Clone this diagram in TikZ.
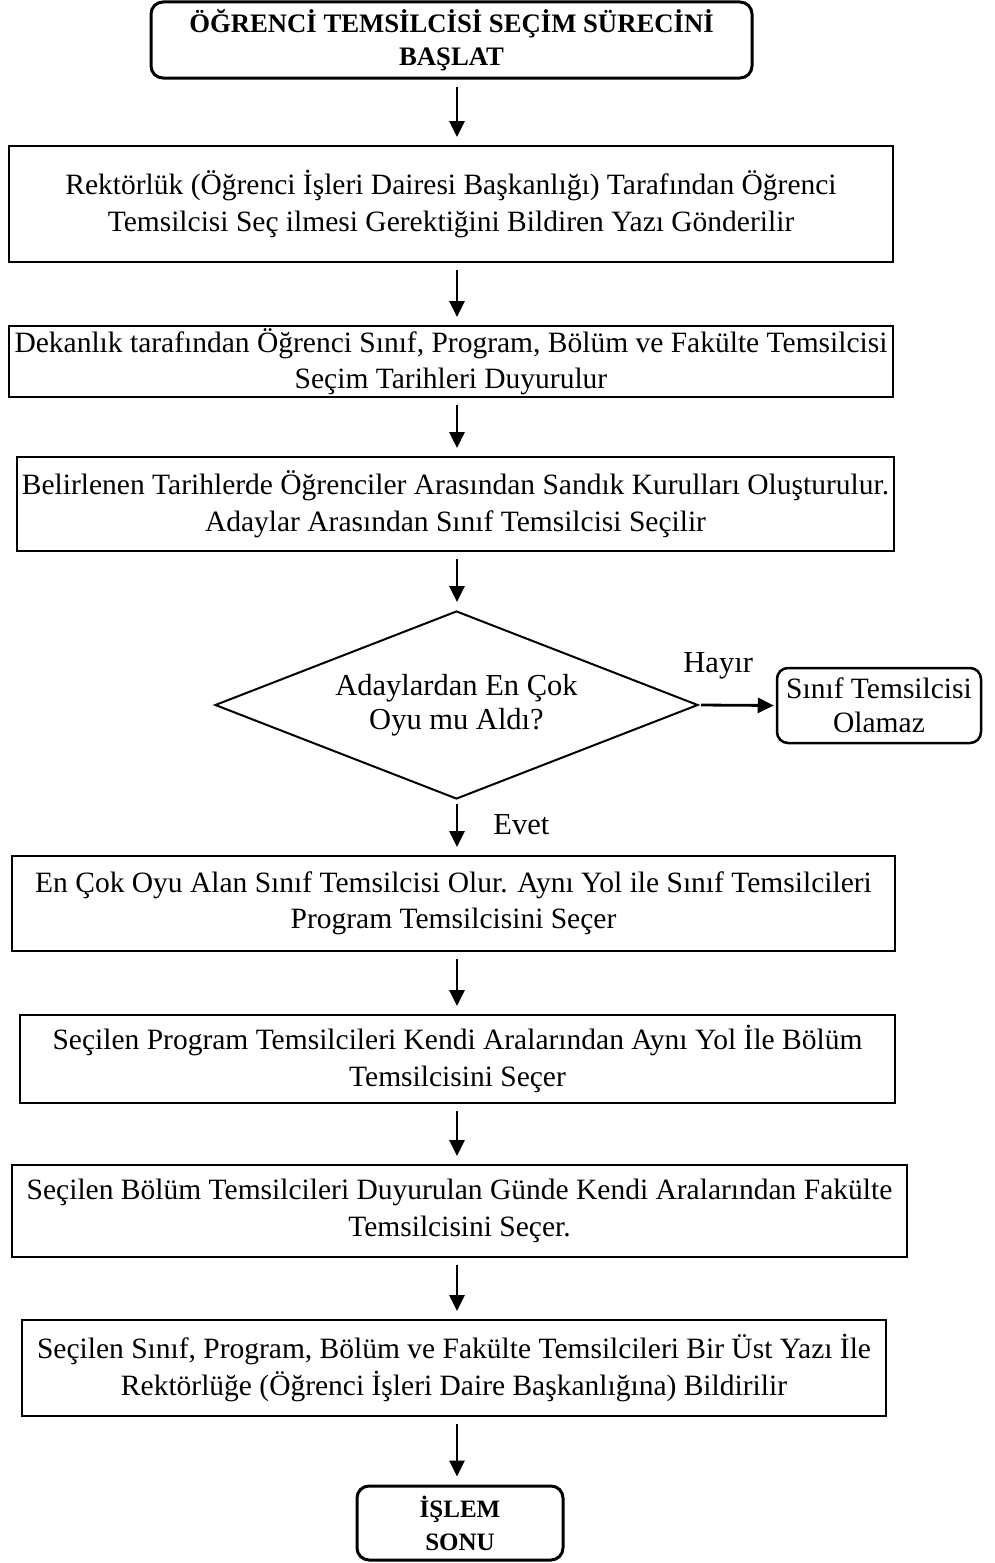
\documentclass[tikz,border=0pt]{standalone}
\usepackage{fontspec}
\setmainfont{Liberation Serif}
\usetikzlibrary{arrows.meta,shapes.geometric}
\begin{document}
\begin{tikzpicture}[x=1pt,y=-1pt,
  stepbox/.style={draw,line width=2pt,inner sep=0pt,align=center,
    font=\fontsize{29.5}{36.5}\selectfont},
  termbox/.style={draw,line width=3pt,rounded corners=12pt,inner sep=0pt,align=center,
    font=\fontsize{26.7}{33}\selectfont\bfseries},
  endbox/.style={draw,line width=2.5pt,rounded corners=11pt,inner sep=0pt,align=center,
    font=\fontsize{29.5}{34}\selectfont},
  decision/.style={draw,diamond,aspect=2.57,line width=2pt,inner sep=0pt,align=center,
    font=\fontsize{30.5}{34}\selectfont},
  lbl/.style={font=\fontsize{30.5}{34}\selectfont,inner sep=0pt},
  arr/.style={line width=2.8pt,-{Triangle[length=16pt,width=15pt]},
    shorten <=7pt,shorten >=8pt}
]
\useasboundingbox (0,0) rectangle (995,1563);

% process steps
\node[termbox,minimum width=601pt,minimum height=76pt] (s) at (451.5,40)
  {ÖĞRENCİ TEMSİLCİSİ SEÇİM SÜRECİNİ\\BAŞLAT};
\node[stepbox,minimum width=884pt,minimum height=116pt] (b1) at (451,204)
  {Rektörlük (Öğrenci İşleri Dairesi Başkanlığı) Tarafından Öğrenci\\Temsilcisi Seç ilmesi Gerektiğini Bildiren Yazı Gönderilir};
\node[stepbox,minimum width=884pt,minimum height=71pt] (b2) at (451,361.5)
  {Dekanlık tarafından Öğrenci Sınıf, Program, Bölüm ve Fakülte Temsilcisi\\Seçim Tarihleri Duyurulur};
\node[stepbox,minimum width=877pt,minimum height=94pt] (b3) at (455.5,504)
  {Belirlenen Tarihlerde Öğrenciler Arasından Sandık Kurulları Oluşturulur.\\Adaylar Arasından Sınıf Temsilcisi Seçilir};
\node[decision,minimum width=483pt,minimum height=188pt] (q) at (456.5,705)
  {Adaylardan En Çok\\Oyu mu Aldı?};
\node[endbox,minimum width=204pt,minimum height=75pt] (no) at (879,705.5)
  {Sınıf Temsilcisi\\Olamaz};
\node[stepbox,minimum width=883pt,minimum height=95pt] (b5) at (453.5,903.5)
  {En Çok Oyu Alan Sınıf Temsilcisi Olur. Aynı Yol ile Sınıf Temsilcileri\\Program Temsilcisini Seçer};
\node[stepbox,minimum width=875pt,minimum height=88pt] (b6) at (457.5,1059)
  {Seçilen Program Temsilcileri Kendi Aralarından Aynı Yol İle Bölüm\\Temsilcisini Seçer};
\node[stepbox,minimum width=895pt,minimum height=92pt] (b7) at (459.5,1211)
  {Seçilen Bölüm Temsilcileri Duyurulan Günde Kendi Aralarından Fakülte\\Temsilcisini Seçer.};
\node[stepbox,minimum width=864pt,minimum height=96pt] (b8) at (454,1368)
  {Seçilen Sınıf, Program, Bölüm ve Fakülte Temsilcileri Bir Üst Yazı İle\\Rektörlüğe (Öğrenci İşleri Daire Başkanlığına) Bildirilir};
\node[termbox,font=\fontsize{25}{33}\selectfont\bfseries,
  minimum width=206pt,minimum height=74pt] (e) at (460,1523)
  {İŞLEM\\SONU};

% connectors along the main column
\coordinate (col) at (457,0);
\draw[arr] (s.south -| col) -- (b1.north -| col);
\draw[arr] (b1.south -| col) -- (b2.north -| col);
\draw[arr] (b2.south -| col) -- (b3.north -| col);
\draw[arr] (b3.south -| col) -- (q.north -| col);
\draw[arr,shorten <=4pt] (q.south -| col) -- (b5.north -| col)
  node[lbl,pos=0.45,right=35pt] (yes) {Evet};
\draw[arr] (b5.south -| col) -- (b6.north -| col);
\draw[arr] (b6.south -| col) -- (b7.north -| col);
\draw[arr] (b7.south -| col) -- (b8.north -| col);
\draw[arr] (b8.south -| col) -- (e.north -| col);

% rejection branch
\draw[arr,shorten <=2pt,shorten >=2pt] (q.east) -- (no.west)
  node[lbl,pos=0.25,above=25pt] (nolbl) {Hayır};
\end{tikzpicture}
\end{document}
